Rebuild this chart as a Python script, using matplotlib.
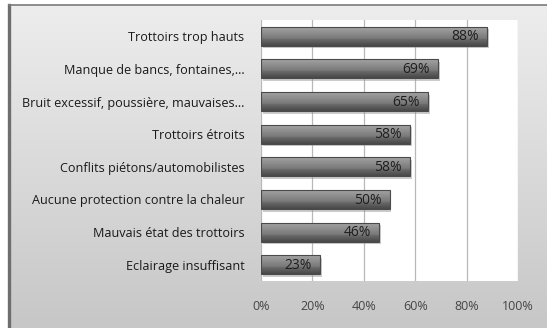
import matplotlib.pyplot as plt
import numpy as np
from matplotlib.patches import Rectangle

categories = [
    "Trottoirs trop hauts",
    "Manque de bancs, fontaines,...",
    "Bruit excessif, poussière, mauvaises...",
    "Trottoirs étroits",
    "Conflits piétons/automobilistes",
    "Aucune protection contre la chaleur",
    "Mauvais état des trottoirs",
    "Eclairage insuffisant",
]
values = [88, 69, 65, 58, 58, 50, 46, 23]
ticks = [0, 20, 40, 60, 80, 100]
tick_labels = ["0%", "20%", "40%", "60%", "80%", "100%"]

plt.rcParams['font.family'] = ['Open Sans', 'DejaVu Sans']

W, H = 547, 328
fig = plt.figure(figsize=(W / 100, H / 100), dpi=100, facecolor='white')

# Framed background panel with a soft vertical gradient
left, top = 9, 5
bg = fig.add_axes([left / W, 0, 1 - left / W, 1 - top / H], zorder=-10)
grad = np.linspace(0.93, 0.78, 256).reshape(-1, 1)
bg.imshow(np.dstack([grad, grad, grad]), aspect='auto', extent=[0, 1, 0, 1])
bg.set_xlim(0, 1)
bg.set_ylim(0, 1)
bg.axis('off')
fig.add_artist(plt.Line2D([left / W, left / W], [0, 1 - top / H], color='#6e6e6e',
                          linewidth=2.4, transform=fig.transFigure))
fig.add_artist(plt.Line2D([left / W, 1], [1 - top / H, 1 - top / H], color='#7a7a7a',
                          linewidth=1.2, transform=fig.transFigure))

ax = fig.add_axes([261 / W, 1 - 281 / H, 257 / W, 261 / H])
ax.set_facecolor('white')
n = len(categories)

ax.set_xticks(ticks)
ax.set_xticklabels(tick_labels, color='#454545', fontsize=9)
ax.set_yticks(range(n))
ax.set_yticklabels(categories, color='#1a1a1a', fontsize=9.1)
ax.tick_params(axis='both', length=0)
ax.tick_params(axis='y', pad=12)
ax.tick_params(axis='x', pad=14)
ax.grid(axis='x', color='#b8b8b8', linewidth=0.9)
ax.set_axisbelow(True)
for s in ax.spines.values():
    s.set_visible(False)

# Shaded bars: vertical gray gradient plus a light drop shadow
h = 0.58
shade = np.concatenate([np.linspace(0.64, 0.47, 40), np.linspace(0.42, 0.28, 24)])
shade_img = np.dstack([shade, shade, shade]).reshape(-1, 1, 3)
for i, v in enumerate(values):
    ax.add_patch(Rectangle((0.6, i - h / 2 + 0.08), v, h, facecolor='#9a9a9a',
                           edgecolor='none', alpha=0.5, zorder=2))
    ax.imshow(shade_img, aspect='auto', extent=[0, v, i + h / 2, i - h / 2],
              zorder=3, interpolation='bilinear')
    ax.add_patch(Rectangle((0, i - h / 2), v, h, fill=False,
                           edgecolor='#4a4a4a', linewidth=0.8, zorder=4))
    ax.text(v - 3.2, i + 0.02, f"{v}%", ha='right', va='center', fontsize=10,
            color='#1e1e1e', zorder=5)

ax.set_xlim(0, 100)
ax.set_ylim(n - 0.5, -0.5)

fig.savefig('out.png', dpi=100, facecolor='white')
